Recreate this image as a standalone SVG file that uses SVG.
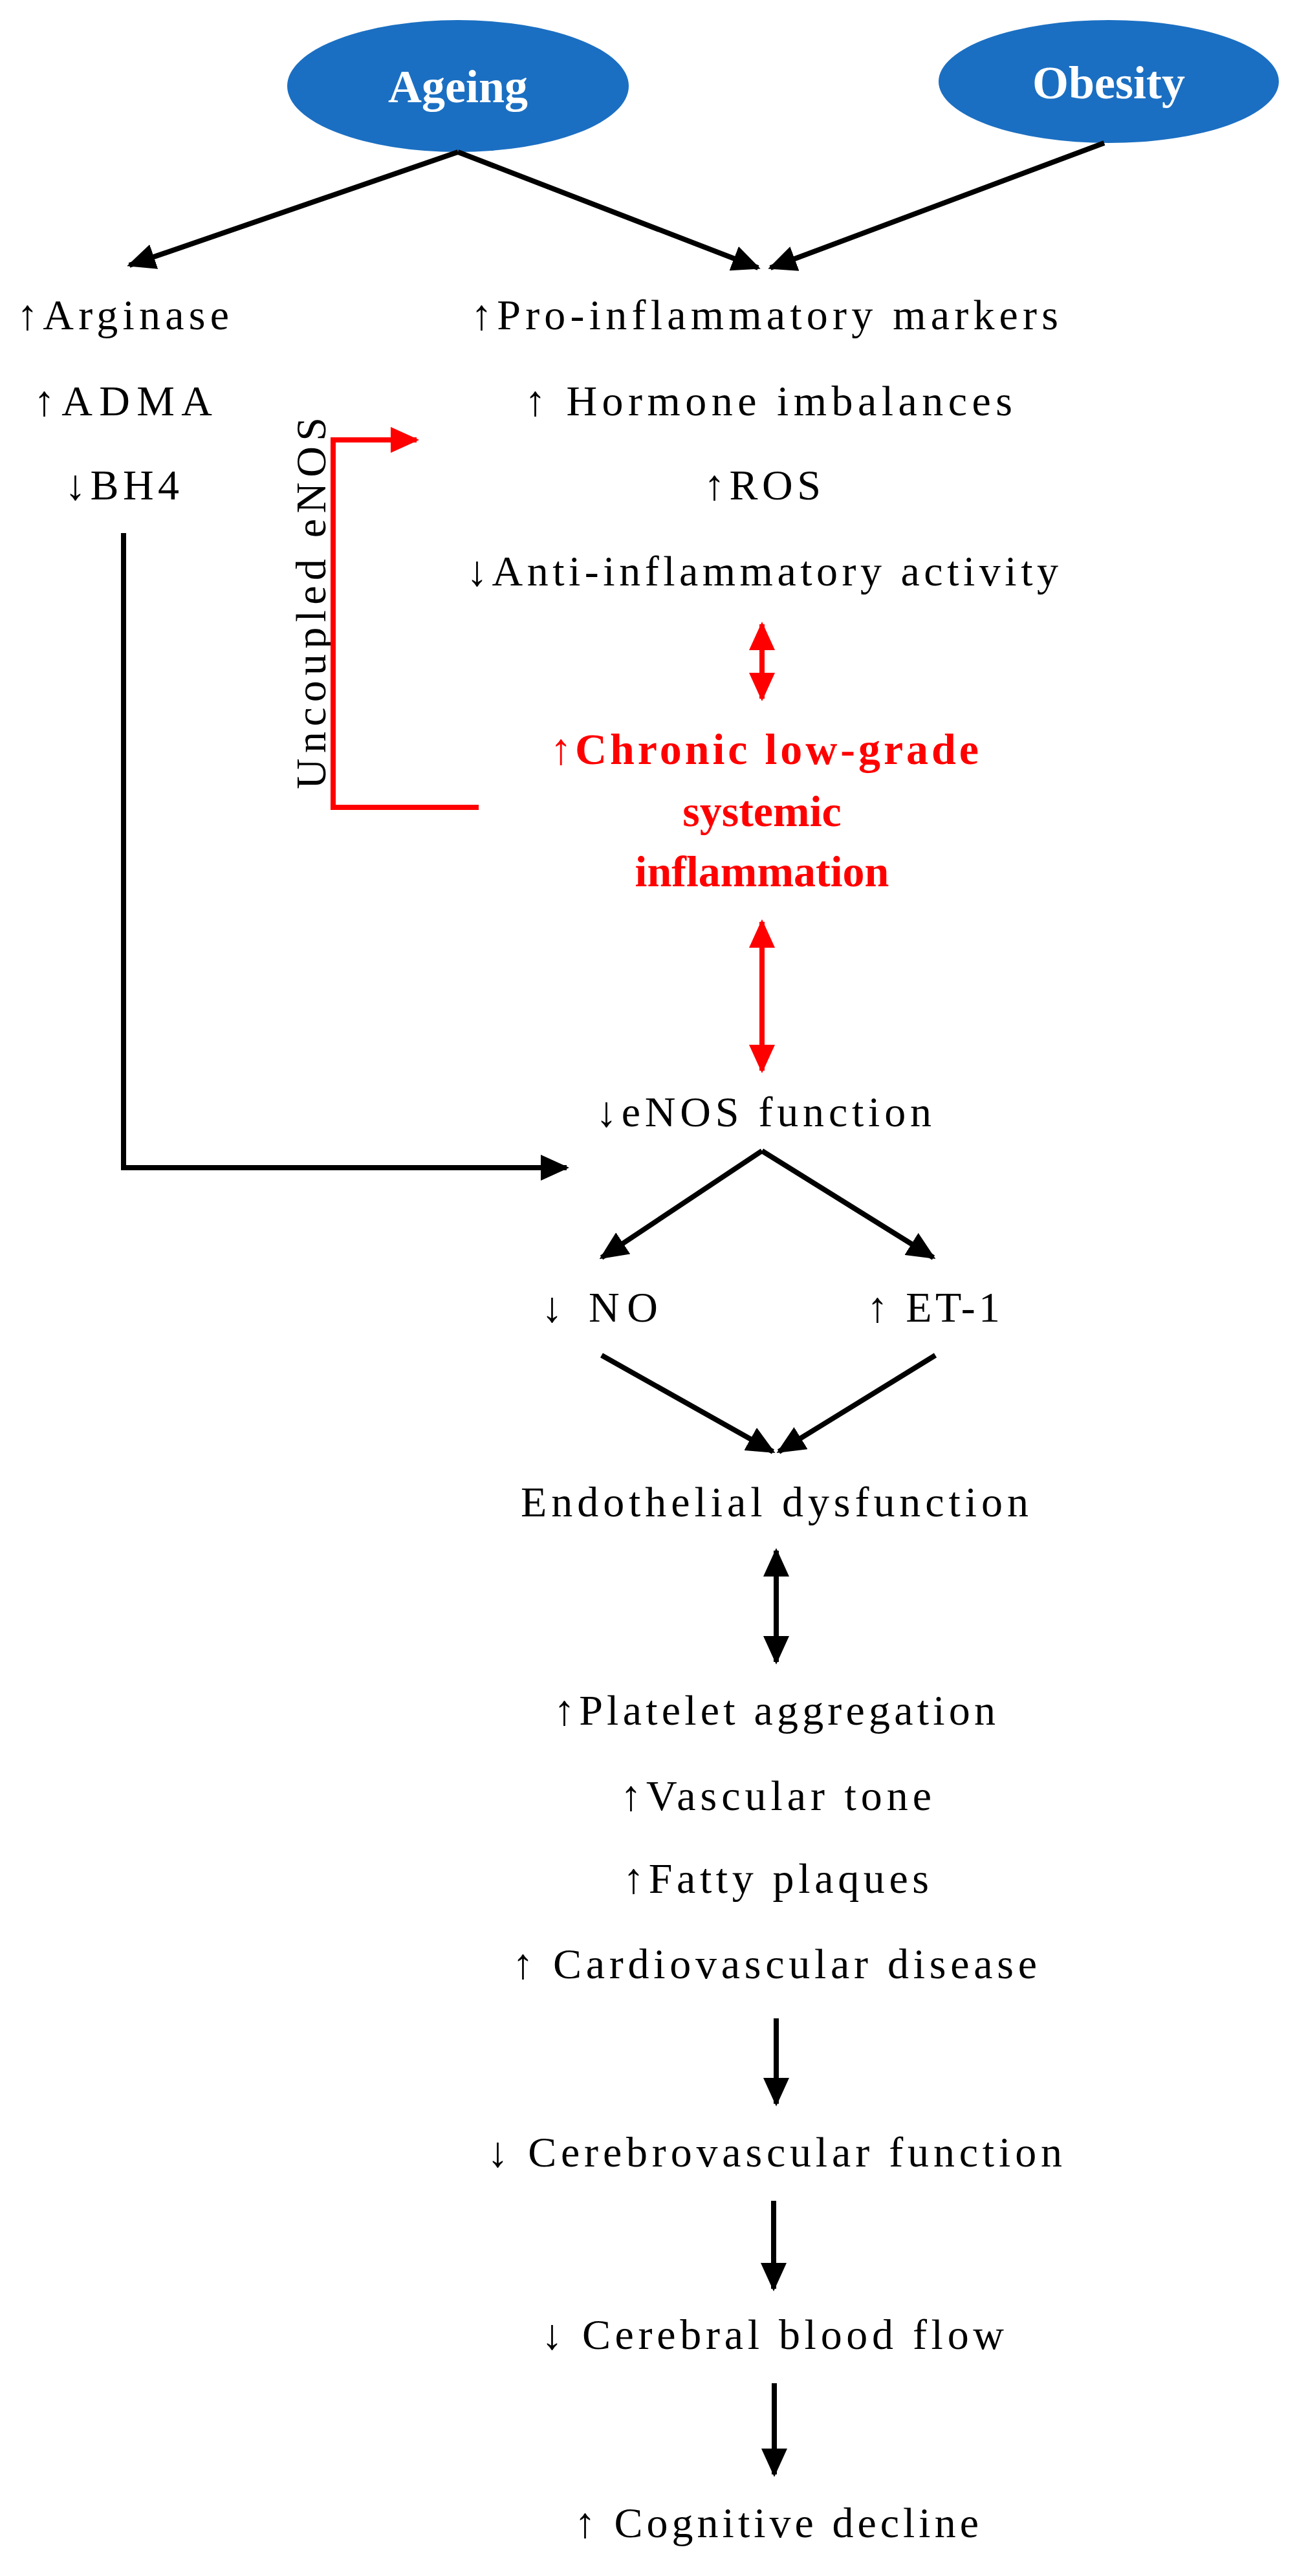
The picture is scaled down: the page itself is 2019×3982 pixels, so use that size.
<svg xmlns="http://www.w3.org/2000/svg" width="2019" height="3982" viewBox="0 0 2019 3982">
<style>
.t{font-family:"Liberation Serif",serif;font-size:66px;fill:#000}
.w{font-family:"Liberation Serif",serif;font-size:72px;font-weight:bold;fill:#fff}
.r{font-family:"Liberation Serif",serif;font-size:68px;font-weight:bold;fill:#f00}
.k{stroke:#000;stroke-width:8;fill:none}
.rd{stroke:#f00;stroke-width:8;fill:none}
</style>
<defs>
<marker id="ak" markerUnits="userSpaceOnUse" markerWidth="44" markerHeight="40" refX="40" refY="20" orient="auto-start-reverse"><path d="M0,0 L44,20 L0,40 Z" fill="#000"/></marker>
<marker id="ar" markerUnits="userSpaceOnUse" markerWidth="44" markerHeight="40" refX="40" refY="20" orient="auto-start-reverse"><path d="M0,0 L44,20 L0,40 Z" fill="#f00"/></marker>
</defs>
<rect width="2019" height="3982" fill="#fff"/>
<g id="ageing"><ellipse cx="708" cy="133" rx="264" ry="102" fill="#1b6fc2"/><text class="w" x="708" y="158" text-anchor="middle">Ageing</text></g>
<g id="obesity"><ellipse cx="1714" cy="126" rx="263" ry="95" fill="#1b6fc2"/><text class="w" x="1714" y="152" text-anchor="middle">Obesity</text></g>
<g id="left-markers">
<text class="t" x="26" y="509" textLength="328">↑Arginase</text>
<text class="t" x="52" y="642" textLength="276">↑ADMA</text>
<text class="t" x="100" y="772" textLength="177">↓BH4</text>
</g>
<g id="inflammation-markers">
<text class="t" x="728" y="509" textLength="908">↑Pro-inflammatory markers</text>
<text class="t" x="811" y="642" textLength="754">↑ Hormone imbalances</text>
<text class="t" x="1088" y="772" textLength="181">↑ROS</text>
<text class="t" x="721" y="905" textLength="915">↓Anti-inflammatory activity</text>
</g>
<g id="uncoupled"><text class="t" transform="translate(503,1220) rotate(-90)" textLength="575">Uncoupled eNOS</text></g>
<g id="chronic">
<text class="r" x="850" y="1181" textLength="663">↑Chronic low-grade</text>
<text class="r" x="1178" y="1277" text-anchor="middle">systemic</text>
<text class="r" x="1178" y="1370" text-anchor="middle">inflammation</text>
</g>
<g id="enos"><text class="t" x="921" y="1741" textLength="519">↓eNOS function</text></g>
<g id="no"><text class="t" x="837" y="2043" textLength="180">↓ NO</text></g>
<g id="et1"><text class="t" x="1340" y="2043" textLength="206">↑ ET-1</text></g>
<g id="endo"><text class="t" x="805" y="2344" textLength="785">Endothelial dysfunction</text></g>
<g id="effects">
<text class="t" x="856" y="2666" textLength="683">↑Platelet aggregation</text>
<text class="t" x="959" y="2798" textLength="481">↑Vascular tone</text>
<text class="t" x="963" y="2926" textLength="473">↑Fatty plaques</text>
<text class="t" x="792" y="3058" textLength="811">↑ Cardiovascular disease</text>
</g>
<g id="cerebro"><text class="t" x="753" y="3349" textLength="889">↓ Cerebrovascular function</text></g>
<g id="cbf"><text class="t" x="837" y="3631" textLength="715">↓ Cerebral blood flow</text></g>
<g id="cog"><text class="t" x="888" y="3922" textLength="625">↑ Cognitive decline</text></g>
<g id="connectors">
<line class="k" x1="708" y1="235" x2="200" y2="410" marker-end="url(#ak)"/>
<line class="k" x1="708" y1="235" x2="1172" y2="414" marker-end="url(#ak)"/>
<line class="k" x1="1707" y1="221" x2="1191" y2="414" marker-end="url(#ak)"/>
<polyline class="rd" points="740,1248 515,1248 515,680 644,680" marker-end="url(#ar)"/>
<line class="rd" x1="1178" y1="965" x2="1178" y2="1080" marker-start="url(#ar)" marker-end="url(#ar)"/>
<line class="rd" x1="1178" y1="1425" x2="1178" y2="1655" marker-start="url(#ar)" marker-end="url(#ar)"/>
<polyline class="k" points="191,824 191,1805 876,1805" marker-end="url(#ak)"/>
<line class="k" x1="1178" y1="1779" x2="930" y2="1944" marker-end="url(#ak)"/>
<line class="k" x1="1178" y1="1779" x2="1443" y2="1944" marker-end="url(#ak)"/>
<line class="k" x1="930" y1="2095" x2="1195" y2="2244" marker-end="url(#ak)"/>
<line class="k" x1="1446" y1="2095" x2="1204" y2="2244" marker-end="url(#ak)"/>
<line class="k" x1="1200" y1="2397" x2="1200" y2="2569" marker-start="url(#ak)" marker-end="url(#ak)"/>
<line class="k" x1="1200" y1="3120" x2="1200" y2="3252" marker-end="url(#ak)"/>
<line class="k" x1="1196" y1="3402" x2="1196" y2="3538" marker-end="url(#ak)"/>
<line class="k" x1="1197" y1="3684" x2="1197" y2="3825" marker-end="url(#ak)"/>
</g>
</svg>
